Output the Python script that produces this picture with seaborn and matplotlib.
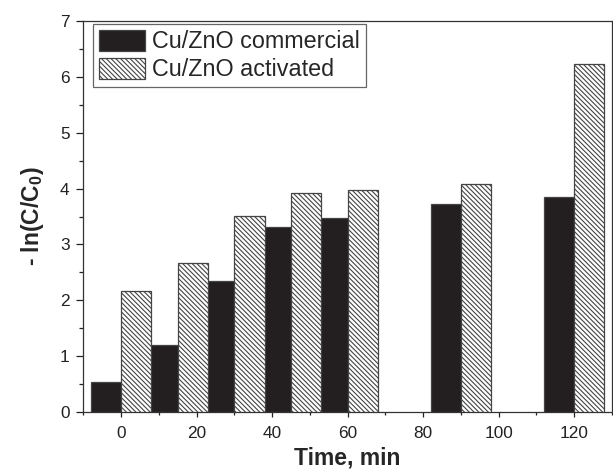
import matplotlib
matplotlib.use("Agg")
import matplotlib.pyplot as plt
import matplotlib.ticker as mticker
import seaborn as sns
import pandas as pd

times = [0, 15, 30, 45, 60, 90, 120]
commercial = [0.54, 1.20, 2.35, 3.32, 3.47, 3.73, 3.84]
activated = [2.16, 2.66, 3.51, 3.92, 3.97, 4.08, 6.22]
series = ["Cu/ZnO commercial", "Cu/ZnO activated"]
xticks = [0, 20, 40, 60, 80, 100, 120]
yticks = [0, 1, 2, 3, 4, 5, 6, 7]

df = pd.DataFrame({
    "time": times * 2,
    "value": commercial + activated,
    "series": [series[0]] * len(times) + [series[1]] * len(times),
})

sns.set_theme(style="ticks")
plt.rcParams["font.family"] = ["Liberation Sans", "DejaVu Sans"]
plt.rcParams["mathtext.fontset"] = "custom"
plt.rcParams["mathtext.rm"] = "Liberation Sans"
plt.rcParams["mathtext.bf"] = "Liberation Sans:bold"
plt.rcParams["mathtext.default"] = "bf"
plt.rcParams["hatch.linewidth"] = 0.8
plt.rcParams["hatch.color"] = "#555555"

fig = plt.figure(figsize=(6.13, 4.70), dpi=100)
ax = fig.add_axes([83.3 / 613, 1 - 412.3 / 470, (612.0 - 83.3) / 613, (412.3 - 20.7) / 470])

sns.barplot(data=df, x="time", y="value", hue="series", hue_order=series,
            native_scale=True, width=16 / 15, dodge=True,
            palette=["#231f20", "white"], edgecolor="#444444", linewidth=0.9,
            saturation=1, errorbar=None, legend=False, ax=ax)

for p in ax.containers[1]:
    p.set_hatch("\\" * 7)
    p.set_zorder(3)

ax.set_xlim(-10, 130)
ax.set_ylim(0, 7)
ax.set_xticks(xticks)
ax.set_yticks(yticks)
ax.xaxis.set_minor_locator(mticker.MultipleLocator(10))
ax.yaxis.set_minor_locator(mticker.MultipleLocator(0.5))
ax.tick_params(axis="both", which="both", direction="out", width=0.9,
               colors="#222222")
ax.tick_params(axis="x", which="major", length=3.8, labelsize=12.4, pad=6)
ax.tick_params(axis="x", which="minor", length=2.4)
ax.tick_params(axis="y", which="major", length=5, labelsize=12.4, pad=5)
ax.tick_params(axis="y", which="minor", length=3)
for s in ax.spines.values():
    s.set_visible(True)
    s.set_color("#333333")
    s.set_linewidth(0.9)

ax.set_xlabel("Time, min", fontsize=16.5, fontweight="bold", labelpad=4)
ax.set_ylabel("- ln(C/C$_0$)", fontsize=16.5, fontweight="bold", labelpad=10)

handles = [ax.containers[0][0], ax.containers[1][0]]
leg = ax.legend(handles=handles, labels=series, loc="upper left",
                bbox_to_anchor=(0.0178, 0.9916), borderaxespad=0,
                fontsize=16.8, frameon=True, fancybox=False, framealpha=1,
                edgecolor="#666666", handlelength=2.0, handleheight=1.0,
                handletextpad=0.3, borderpad=0.25, labelspacing=0.2)
leg.get_frame().set_linewidth(0.9)

fig.savefig("out.png", dpi=100)
